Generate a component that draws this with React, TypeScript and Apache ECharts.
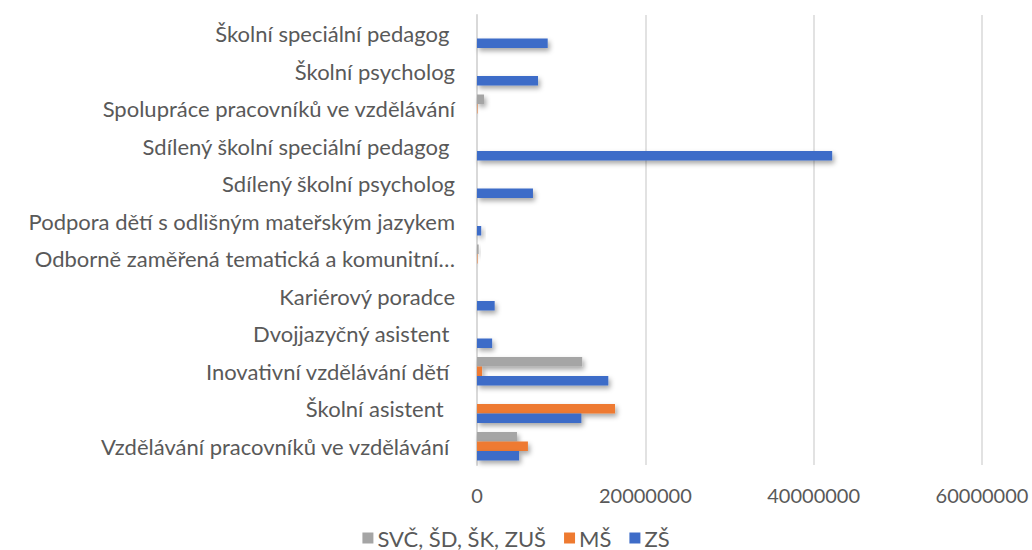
import React, { useEffect, useRef } from "react";
import * as echarts from "echarts";

const NB = "\u00a0";
const categories = [
  "Vzdělávání pracovníků ve vzdělávání" + NB,
  "Školní asistent" + NB + NB,
  "Inovativní vzdělávání dětí" + NB,
  "Dvojjazyčný asistent" + NB,
  "Kariérový poradce",
  "Odborně zaměřená tematická a komunitní…",
  "Podpora dětí s odlišným mateřským jazykem",
  "Sdílený školní psycholog",
  "Sdílený školní speciální pedagog" + NB,
  "Spolupráce pracovníků ve vzdělávání",
  "Školní psycholog",
  "Školní speciální pedagog" + NB,
];

const zs = [5000000, 12400000, 15600000, 1800000, 2100000, 0, 500000, 6650000, 42200000, 0, 7250000, 8400000];
const ms = [6050000, 16400000, 600000, 0, 0, 60000, 0, 0, 0, 60000, 0, 0];
const svc = [4750000, 0, 12500000, 0, 0, 200000, 0, 0, 0, 830000, 0, 0];

const seriesNames = ["SVČ, ŠD, ŠK, ZUŠ", "MŠ", "ZŠ"];
const legendOrder = ["SVČ, ŠD, ŠK, ZUŠ", "MŠ", "ZŠ"];
const xTicks = { min: 0, max: 60000000, interval: 20000000 };

const FONT = "Lato";
const shadow = {
  shadowColor: "rgba(0,0,0,0.35)",
  shadowBlur: 5,
  shadowOffsetX: 2,
  shadowOffsetY: 3,
};

export default function App() {
  const ref = useRef<HTMLDivElement>(null);
  useEffect(() => {
    if (!ref.current) return;
    const chart = echarts.init(ref.current, null, { renderer: "svg" });
    const colors = ["#A5A5A5", "#EE7A30", "#3E6CC8"];
    const datas = [svc, ms, zs];
    chart.setOption({
      animation: false,
      textStyle: { fontFamily: FONT },
      grid: { left: 477, right: 50, top: 15, bottom: 85 },
      legend: {
        data: legendOrder,
        top: 527,
        left: "center",
        padding: 0,
        itemWidth: 11,
        itemHeight: 11,
        itemGap: 18,
        icon: "rect",
        textStyle: { fontSize: 22, color: "#595959", fontFamily: FONT, padding: [0, 0, 0, -1] },
      },
      xAxis: {
        type: "value",
        min: xTicks.min,
        max: xTicks.max,
        interval: xTicks.interval,
        axisLine: { show: false },
        axisTick: { show: false },
        splitLine: { lineStyle: { color: "#D9D9D9", width: 1.5 } },
        axisLabel: {
          fontSize: 20,
          color: "#595959",
          margin: 20,
          fontFamily: FONT,
          formatter: (v: number) => String(v),
        },
      },
      yAxis: {
        type: "category",
        data: categories,
        axisLine: { lineStyle: { color: "#D9D9D9", width: 2 } },
        axisTick: { show: false },
        axisLabel: { fontSize: 22, color: "#595959", margin: 22, fontFamily: FONT },
      },
      series: seriesNames.map((n, i) => ({
        name: n,
        type: "bar",
        data: datas[i],
        barGap: "0%",
        barCategoryGap: "24%",
        itemStyle: { color: colors[i], ...shadow },
      })),
    });
    return () => chart.dispose();
  }, []);
  return (
    <div
      ref={ref}
      style={{ position: "fixed", left: 0, top: 0, width: 1032, height: 550, background: "#fff" }}
    />
  );
}
